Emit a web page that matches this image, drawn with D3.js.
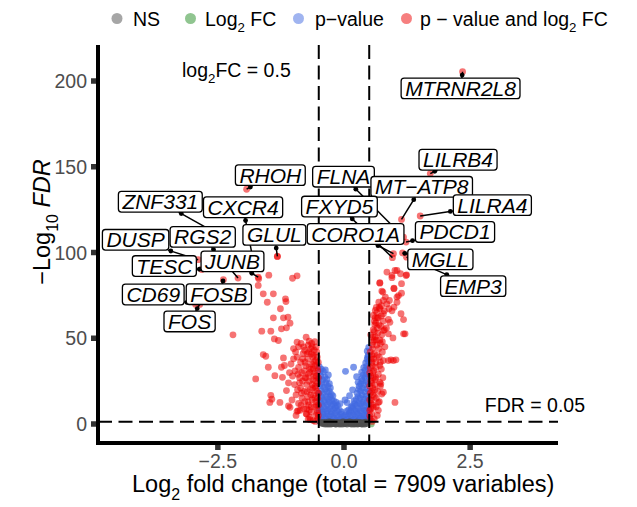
<!DOCTYPE html>
<html>
<head>
<meta charset="utf-8">
<script src="https://cdn.jsdelivr.net/npm/d3@7"></script>
<style>
  body { margin: 0; background: #fff; }
  text { font-family: "Liberation Sans", Arial, Helvetica, sans-serif; }
</style>
</head>
<body>
<div id="chart"></div>
<script>
// ---- data: [log2FC, -log10 FDR] ----
const nsPoints = [[-0.44,0.4],[-0.38,0.9],[-0.32,0.2],[-0.27,1.1],[-0.22,0.6],[-0.17,0.1],[-0.12,0.9],[-0.07,0.4],[-0.02,1.2],[0.03,0.3],
  [0.08,0.8],[0.13,0.1],[0.18,1.0],[0.23,0.5],[0.28,0.2],[0.33,0.9],[0.38,0.4],[0.43,1.1],[-0.4,0.1],[-0.35,0.6],[-0.3,1.2],[-0.25,0.3],
  [-0.2,0.9],[-0.15,0.5],[-0.1,0.2],[-0.05,0.8],[0.0,0.1],[0.05,1.0],[0.1,0.5],[0.15,0.7],[0.2,0.2],[0.25,1.1],[0.3,0.6],[0.35,0.1],
  [0.4,0.8],[0.45,0.3],[-0.46,1.0],[-0.31,0.0],[0.01,0.6],[0.21,0.0],[-0.09,0.0],[0.11,1.2],[-0.42,0.7],[0.41,0.0],
  [-0.36,0.0],[-0.26,0.0],[-0.16,0.0],[-0.04,0.0],[0.06,0.0],[0.16,0.0],[0.27,0.0],[0.36,0.0],[-0.21,0.2],[0.31,0.3]];
const fcPoints = [[0.54,0.05]];
const pPoints = [[-0.48,1.6],[-0.44,2.4],[-0.4,1.8],[-0.36,3.1],[-0.32,2.0],[-0.28,2.7],[-0.24,1.7],[-0.2,3.3],[-0.16,2.2],[-0.12,1.9],
  [-0.08,2.8],[-0.04,1.6],[0.0,2.5],[0.04,1.8],[0.08,3.0],[0.12,2.1],[0.16,1.7],[0.2,2.9],[0.24,2.2],[0.28,1.6],[0.32,3.2],[0.36,2.4],
  [0.4,1.9],[0.44,2.8],[0.48,2.1],[-0.46,4.6],[-0.42,5.5],[-0.38,4.2],[-0.34,6.0],[-0.3,4.9],[-0.26,5.7],[-0.22,4.4],[-0.18,6.3],
  [-0.14,5.0],[-0.1,4.1],[-0.06,5.8],[-0.02,4.5],[0.02,5.2],[0.06,4.3],[0.1,6.1],[0.14,4.8],[0.18,5.6],[0.22,4.2],[0.26,6.2],[0.3,5.0],
  [0.34,4.4],[0.38,6.0],[0.42,5.1],[0.46,4.7],[0.5,3.5],[-0.49,7.4],[-0.45,8.3],[-0.41,7.0],[-0.37,8.8],[-0.33,7.6],[-0.29,9.1],
  [-0.25,7.2],[-0.21,8.4],[-0.17,9.3],[-0.13,7.7],[-0.09,8.1],[-0.05,7.0],[0.05,7.3],[0.09,8.2],[0.13,7.5],[0.17,9.4],[0.21,8.0],
  [0.25,7.4],[0.29,8.9],[0.33,7.8],[0.37,9.2],[0.41,8.0],[0.45,7.6],[0.49,8.7],
  [-0.49,10.5],[-0.45,11.8],[-0.41,10.2],[-0.37,12.6],[-0.33,11.1],[-0.29,12.9],[-0.25,10.7],[-0.21,11.6],[-0.17,10.4],[-0.13,10.9],
  [-0.48,14.2],[-0.44,15.6],[-0.4,13.8],[-0.36,16.1],[-0.32,14.6],[-0.28,15.9],[-0.24,14.0],[-0.2,13.3],[-0.16,12.8],
  [-0.49,18.0],[-0.45,19.4],[-0.41,17.5],[-0.37,20.2],[-0.33,18.6],[-0.29,19.0],[-0.25,17.2],[-0.22,16.4],
  [-0.48,22.3],[-0.44,23.6],[-0.4,21.4],[-0.36,24.0],[-0.32,22.1],[-0.29,23.5],[-0.27,21.0],
  [-0.49,26.4],[-0.46,28.0],[-0.42,25.7],[-0.38,27.3],[-0.34,26.0],[-0.31,28.6],
  [-0.48,30.2],[-0.45,32.0],[-0.41,30.6],[-0.37,31.5],[-0.49,33.5],
  [0.49,11.2],[0.45,12.4],[0.41,10.8],[0.37,12.9],[0.33,11.6],[0.29,12.2],[0.25,10.9],[0.21,11.8],[0.17,10.6],[0.14,9.8],
  [0.48,15.0],[0.44,16.3],[0.4,14.5],[0.36,16.9],[0.32,15.2],[0.28,16.0],[0.24,14.3],[0.2,13.5],
  [0.49,19.2],[0.45,20.5],[0.41,18.6],[0.37,21.0],[0.33,19.3],[0.29,20.2],[0.26,18.0],
  [0.48,23.6],[0.44,24.8],[0.4,22.9],[0.36,25.2],[0.33,23.4],[0.3,22.0],
  [0.49,27.8],[0.45,29.1],[0.42,27.0],[0.38,28.5],[0.35,26.4],
  [0.48,32.2],[0.45,33.6],[0.42,31.4],[0.39,32.8],
  [0.49,36.4],[0.46,37.8],[0.43,35.6],[0.48,40.1],[0.46,42.5],[0.49,44.6],[0.47,39.0],
  [0.19,33.1],[0.03,30.7],[0.17,19.9],[0.11,16.5],[0.02,14.0],[0.35,30.1],[0.28,24.3],[0.25,27.6],[0.06,12.5],[-0.08,11.8]];
const bothPoints = [
  // left, dense
  [-0.52,3],[-0.55,5],[-0.53,8],[-0.58,10],[-0.56,13],[-0.52,15],[-0.6,17],[-0.54,19],[-0.57,22],[-0.52,24],[-0.62,26],[-0.55,28],
  [-0.59,30],[-0.53,33],[-0.64,35],[-0.56,37],[-0.6,40],[-0.54,42],[-0.66,44],[-0.68,4],[-0.65,7],[-0.7,11],[-0.63,14],[-0.72,16],
  [-0.67,20],[-0.74,23],[-0.69,25],[-0.71,29],[-0.66,32],[-0.76,34],[-0.72,38],[-0.7,42],[-0.8,45],[-0.85,47],[-0.9,45],[-0.78,43],
  [-0.75,6],[-0.8,9],[-0.78,13],[-0.83,15],[-0.79,19],[-0.86,21],[-0.82,25],[-0.88,27],[-0.84,30],[-0.9,33],[-0.86,36],[-0.93,39],
  [-0.81,41],[-0.96,42],[-1.0,44],[-0.9,12],[-0.95,17],[-0.98,23],[-0.92,20],[-1.02,28],[-0.97,31],[-1.05,35],[-1.0,38],[-1.08,30],
  [-1.1,24],[-1.03,14],[-0.87,8],[-0.95,5],[-0.61,2],[-0.57,1.5],[-0.74,9],[-0.6,36],[-0.63,45],[-0.58,48],[-0.51,11],[-0.51,27],
  [-0.53,39],[-0.62,21],[-0.77,27],[-0.69,33],
  [-0.51,5],[-0.54,11],[-0.58,15],[-0.51,18],[-0.56,25],[-0.6,28],[-0.52,31],[-0.57,34],[-0.62,39],[-0.51,36],[-0.55,45],[-0.59,43],
  [-0.65,41],[-0.68,30],[-0.63,23],[-0.66,17],[-0.71,13],[-0.69,8],[-0.73,19],[-0.75,27],[-0.77,36],[-0.73,41],[-0.82,38],[-0.79,31],
  [-0.84,18],[-0.88,24],[-0.91,29],[-0.85,11],[-0.67,2.5],[-0.53,6.5],[-0.64,47],[-0.71,46],[-0.56,21],[-0.61,32],[-0.65,10],
  // left, scattered
  [-1.49,86.8],[-0.93,86.4],[-1.02,85.0],[-1.69,84.7],[-1.70,80.8],[-1.60,75.9],[-1.40,75.9],[-1.16,73.0],[-1.15,71.4],[-1.52,71.0],
  [-1.26,67.2],[-1.40,61.9],[-1.20,61.9],[-1.11,62.3],[-1.07,58.8],[-1.14,56.1],[-1.24,55.5],[-1.63,54.1],[-1.45,54.1],[-2.20,52.0],
  [-1.38,49.6],[-1.30,48.7],[-0.93,47.7],[-0.75,50.6],[-0.69,48.3],[-1.55,39.5],[-1.20,38.5],[-1.50,33.1],[-1.24,33.1],[-1.75,26.3],
  [-1.37,28.2],[-1.45,16.7],[-1.14,19.5],[-1.27,12.6],[-1.47,12.6],[-1.10,10.5],[-0.93,7.4],[-0.74,5.8],[-1.07,9.7],[-0.91,7.8],
  [-0.71,2.9],[-1.22,27.2],[-1.60,40.5],[-1.18,34.1],[-1.43,14.5],[-1.32,97.7],
  // right, dense
  [0.52,3],[0.55,6],[0.53,9],[0.58,11],[0.54,14],[0.6,16],[0.52,18],[0.57,21],[0.55,24],[0.62,26],[0.53,28],[0.59,31],[0.56,34],
  [0.63,36],[0.54,38],[0.6,41],[0.57,44],[0.65,46],[0.58,48],[0.62,51],[0.6,54],[0.66,56],[0.63,59],[0.68,62],[0.65,65],[0.7,68],
  [0.66,5],[0.64,10],[0.7,13],[0.67,19],[0.72,22],[0.68,29],[0.74,32],[0.7,39],[0.76,42],[0.72,47],[0.75,52],[0.73,57],[0.78,60],
  [0.8,66],[0.85,70],[0.9,72],[0.82,74],[0.95,66],[0.74,63],[0.69,44],[0.77,27],[0.81,45],[0.84,56],[0.88,61],[0.61,58],[0.56,1.5],
  [0.6,3],[0.51,8],[0.51,22],[0.52,33],[0.53,52],[0.56,40],[0.64,49],[0.61,20],
  [0.51,5],[0.54,12],[0.57,17],[0.51,14],[0.55,19],[0.53,25],[0.58,27],[0.51,30],[0.55,36],[0.59,38],[0.52,42],[0.56,46],[0.6,49],
  [0.58,55],[0.62,62],[0.64,68],[0.67,53],[0.69,58],[0.71,49],[0.66,40],[0.63,33],[0.61,23],[0.64,15],[0.68,8],[0.72,36],[0.76,48],
  [0.8,55],[0.74,69],[0.78,72],[0.69,71],[0.6,60],[0.57,30],
  // right, scattered
  [0.85,88.6],[1.01,89.5],[1.12,87.6],[1.24,87.0],[0.95,85.3],[0.71,82.4],[0.99,79.2],[1.14,81.8],[0.77,76.9],[1.08,74.9],[1.05,71.0],
  [0.99,68.1],[0.89,67.2],[1.13,64.3],[1.18,60.9],[0.78,64.3],[0.66,61.9],[0.62,66.2],[0.71,67.2],[1.18,52.6],[0.91,59.3],[0.78,54.5],
  [0.88,52.6],[0.97,50.2],[0.57,50.6],[0.78,37.0],[0.93,37.4],[1.03,37.4],[0.71,34.1],[0.63,27.2],[0.75,17.5],[0.68,12.6],[0.58,9.7],
  [0.73,23.4],[1.01,12.6],[1.21,52.6],[0.98,37.0],[0.88,37.0],[0.78,18.5],[0.71,24.3],[0.58,63.3],[0.71,82.1],[0.75,77.5],[0.99,78.9],
  [1.14,76.3],[1.05,74.0],[0.95,86.6],[1.05,89.5],[1.23,86.6]];

// labelled genes
const labGenes = ['MTRNR2L8','LILRB4','FLNA','MT\u2212ATP8','FXYD5','LILRA4','CORO1A','PDCD1','MGLL','EMP3',
  'RHOH','ZNF331','CXCR4','GLUL','DUSP','RGS2','TESC','JUNB','CD69','FOSB','FOS'];
const labFC = [2.35,1.71,1.18,1.14,0.96,1.51,0.98,1.23,1.16,1.24,
  -1.93,-2.42,-1.80,-1.32,-2.89,-2.10,-2.82,-1.70,-2.94,-2.39,-2.86];
const labLogFDR = [205.4,146.0,109.0,119.3,97.0,121.3,99.3,106.1,99.7,97.3,
  136.9,109.4,95.4,97.7,95.8,85.1,90.1,85.6,69.7,84.1,69.7];

const xTicks = [-2.5, 0, 2.5];
const yTicks = [0, 50, 100, 150, 200];
const fcCutoff = 0.5, fdrCutoff = 0.05, totalVars = 7909;

// where the repelled label boxes sit (data coords of box centres)
const labelBoxX = [2.31,2.26,-0.01,1.54,-0.09,2.94,0.23,2.20,1.91,2.56,
  -1.46,-3.64,-2.00,-1.38,-4.13,-2.80,-3.56,-2.21,-3.78,-2.48,-3.06];
const labelBoxY = [195.7,154.1,144.2,138.3,126.8,127.6,110.8,112.0,96.0,80.4,
  145.1,129.6,126.4,110.3,107.4,109.1,92.1,94.8,75.5,75.7,59.8];

const W = 637, H = 507;
const colours = { ns: '#4d4d4d', fc: '#228B22', p: '#4169E1', both: '#EE0000' };

const x = d3.scaleLinear().domain([-4.875, 4.241]).range([98, 558]),
  y = d3.scaleLinear().domain([-11.08, 221]).range([443, 45]);

const svg = d3.select('#chart').append('svg')
  .attr('width', W).attr('height', H);

// text with subscripts: parts = [[str, 'sub'|'it'|null], ...]
function richText(sel, parts, size) {
  parts.forEach(([s, kind], i) => {
    const t = sel.append('tspan').text(s);
    if (kind === 'sub') {
      t.attr('font-size', size * 0.68).attr('dy', size * 0.32);
    } else if (i > 0 && parts[i - 1][1] === 'sub') {
      t.attr('dy', -size * 0.32);
    }
    if (kind === 'it') t.attr('font-style', 'italic');
  });
  return sel;
}

// points (NS drawn last so the grey blob shows under the cutoff line)
const pts = svg.append('g');
[[fcPoints, colours.fc, 0.5], [pPoints, colours.p, 0.7], [bothPoints, colours.both, 0.55], [nsPoints, colours.ns, 0.8]].forEach(([arr, c, op]) => {
  pts.selectAll(null).data(arr).enter().append('circle')
    .attr('cx', d => x(d[0])).attr('cy', d => y(d[1]))
    .attr('r', 3.4).attr('fill', c).attr('fill-opacity', op);
});
const labData = labGenes.map((g, i) => ({ g, fc: labFC[i], v: labLogFDR[i], bx: labelBoxX[i], by: labelBoxY[i] }));
pts.selectAll(null).data(labData).enter().append('circle')
  .attr('cx', d => x(d.fc)).attr('cy', d => y(d.v))
  .attr('r', 3.4).attr('fill', colours.both).attr('fill-opacity', 0.55);

// cutoff lines
const cut = svg.append('g').attr('stroke', '#000').attr('stroke-width', 2).attr('stroke-dasharray', '14,6.5');
[-fcCutoff, fcCutoff].forEach(v => cut.append('line')
  .attr('x1', x(v)).attr('x2', x(v)).attr('y1', y.range()[1]).attr('y2', y.range()[0]));
cut.append('line').attr('x1', x.range()[0]).attr('x2', x.range()[1])
  .attr('y1', y(-Math.log10(fdrCutoff))).attr('y2', y(-Math.log10(fdrCutoff)));

// labels with connectors
const lab = svg.append('g');
const segs = lab.append('g'), boxes = lab.append('g');
labData.forEach(d => {
  const cx = x(d.bx), cy = y(d.by);
  const g = boxes.append('g');
  const t = g.append('text').attr('x', cx).attr('y', cy).attr('dy', '0.36em')
    .attr('text-anchor', 'middle').attr('font-size', 21).attr('font-style', 'italic').text(d.g);
  const tw = t.node().getComputedTextLength();
  const hw = tw / 2 + 4, hh = 10.3;
  g.insert('rect', 'text').attr('x', cx - hw).attr('y', cy - hh).attr('width', hw * 2).attr('height', hh * 2)
    .attr('rx', 3).attr('fill', '#fff').attr('stroke', '#000').attr('stroke-width', 1.3);
  const px = x(d.fc), py = y(d.v), dx = px - cx, dy = py - cy;
  const s = Math.min(dx ? hw / Math.abs(dx) : Infinity, dy ? hh / Math.abs(dy) : Infinity);
  if (s < 1) {
    const ex = cx + dx * s, ey = cy + dy * s;
    const len = Math.hypot(px - ex, py - ey), k = Math.min(1, 3 / len);
    segs.append('line').attr('x1', ex).attr('y1', ey).attr('x2', px).attr('y2', py)
      .attr('stroke', '#000').attr('stroke-width', 1.5);
    segs.append('circle').attr('cx', ex + (px - ex) * k).attr('cy', ey + (py - ey) * k)
      .attr('r', 2.4).attr('fill', '#000');
  }
});

// axes
const ax = svg.append('g');
ax.append('path').attr('d', `M${x.range()[0]},${y.range()[1]}V${y.range()[0]}H${x.range()[1]}`)
  .attr('fill', 'none').attr('stroke', '#000').attr('stroke-width', 4).attr('stroke-linejoin', 'miter');
ax.selectAll(null).data(yTicks).enter().append('line')
  .attr('x1', 91).attr('x2', 96).attr('y1', d => y(d)).attr('y2', d => y(d))
  .attr('stroke', '#333').attr('stroke-width', 5.5);
ax.selectAll(null).data(yTicks).enter().append('text')
  .attr('x', 87).attr('y', d => y(d)).attr('dy', '0.36em').attr('text-anchor', 'end')
  .attr('font-size', 19.5).attr('fill', '#4d4d4d').text(d => d);
ax.selectAll(null).data(xTicks).enter().append('line')
  .attr('x1', d => x(d)).attr('x2', d => x(d)).attr('y1', 445).attr('y2', 450)
  .attr('stroke', '#333').attr('stroke-width', 5.5);
ax.selectAll(null).data(xTicks).enter().append('text')
  .attr('x', d => x(d)).attr('y', 468).attr('text-anchor', 'middle')
  .attr('font-size', 19.5).attr('fill', '#4d4d4d').text(d => d3.format('.1f')(d).replace('-', '\u2212'));

richText(svg.append('text').attr('x', 132).attr('y', 492).attr('font-size', 23.5),
  [['Log', null], ['2', 'sub'], [` fold change (total = ${totalVars} variables)`, null]], 23.5);
richText(svg.append('text').attr('transform', 'translate(50,222) rotate(-90)')
  .attr('text-anchor', 'middle').attr('font-size', 23.5),
  [['\u2212Log', null], ['10', 'sub'], [' ', null], ['FDR', 'it']], 23.5);

// cutoff annotations
richText(svg.append('text').attr('x', 182).attr('y', 77).attr('font-size', 19.5),
  [['log', null], ['2', 'sub'], [`FC = ${fcCutoff}`, null]], 19.5);
svg.append('text').attr('x', 585).attr('y', 411.5).attr('text-anchor', 'end')
  .attr('font-size', 19.5).text(`FDR = ${fdrCutoff}`);

// legend
const legendItems = [
  { parts: [['NS', null]], c: colours.ns, cx: 117, tx: 133 },
  { parts: [['Log', null], ['2', 'sub'], [' FC', null]], c: colours.fc, cx: 190.5, tx: 205 },
  { parts: [['p\u2212value', null]], c: colours.p, cx: 298.5, tx: 315 },
  { parts: [['p \u2212 value and log', null], ['2', 'sub'], [' FC', null]], c: colours.both, cx: 406.5, tx: 420 }
];
const lg = svg.append('g');
legendItems.forEach(it => {
  lg.append('circle').attr('cx', it.cx).attr('cy', 18.5).attr('r', 5.5).attr('fill', it.c).attr('fill-opacity', 0.5);
  richText(lg.append('text').attr('x', it.tx).attr('y', 25.5).attr('font-size', 19.5), it.parts, 19.5);
});
</script>
</body>
</html>
